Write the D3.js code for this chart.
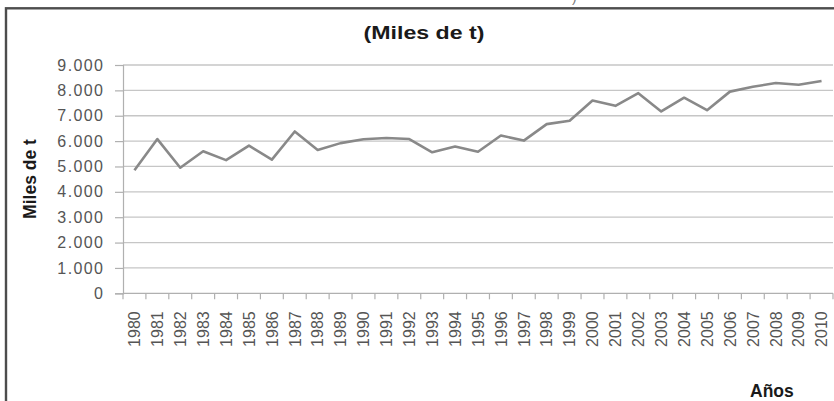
<!DOCTYPE html>
<html>
<head>
<meta charset="utf-8">
<script src="https://cdn.jsdelivr.net/npm/d3@7"></script>
<style>
  html, body { margin: 0; padding: 0; background: #fff; }
  svg { display: block; }
  text { font-family: "Liberation Sans", Arial, sans-serif; }
</style>
</head>
<body>
<svg id="chart" width="834" height="401"></svg>
<script>
const years = ["1980","1981","1982","1983","1984","1985","1986","1987","1988","1989",
  "1990","1991","1992","1993","1994","1995","1996","1997","1998","1999",
  "2000","2001","2002","2003","2004","2005","2006","2007","2008","2009","2010"];
const values = [4850, 6080, 4950, 5600, 5250, 5820, 5270, 6380, 5650, 5920,
  6070, 6120, 6080, 5560, 5790, 5580, 6220, 6020, 6670, 6800,
  7600, 7390, 7890, 7170, 7710, 7220, 7950, 8140, 8290, 8220, 8370];
const yTicks = [0, 1000, 2000, 3000, 4000, 5000, 6000, 7000, 8000, 9000];
const titleText = "(Miles de t)";
const yTitle = "Miles de t";
const xTitle = "Años";

const svg = d3.select("#chart");
const pLeft = 123, pRight = 833, pTop = 65, pBottom = 293.3;

const x = d3.scaleBand().domain(years).range([pLeft, pRight]);
const y = d3.scaleLinear().domain([0, 9000]).range([pBottom, pTop]);
const loc = d3.formatLocale({decimal: ",", thousands: ".", grouping: [3], currency: ["", ""]});
const fmt = loc.format(",");

// frame
svg.append("rect").attr("x", 6).attr("y", 8.3).attr("width", 850).attr("height", 420)
  .attr("fill", "none").attr("stroke", "#4d4d4d").attr("stroke-width", 2.4);

// caption fragment above frame
svg.append("text").attr("x", 572).attr("y", 2).attr("font-size", 14).attr("fill", "#777").text(")");

// gridlines
svg.append("g").selectAll("line").data(yTicks.filter(d => d > 0)).join("line")
  .attr("x1", pLeft).attr("x2", pRight)
  .attr("y1", d => y(d)).attr("y2", d => y(d))
  .attr("stroke", "#c6c6c6").attr("stroke-width", 1.3);

// y axis
const yAxis = svg.append("g").attr("transform", `translate(${pLeft},0)`)
  .call(d3.axisLeft(y).tickValues(yTicks).tickFormat(fmt).tickSize(8).tickPadding(12));
yAxis.select(".domain").attr("stroke", "#b0b0b0").attr("stroke-width", 1.2);
yAxis.selectAll(".tick line").attr("stroke", "#b0b0b0").attr("stroke-width", 1.2);
yAxis.selectAll(".tick text").attr("font-size", 16).attr("fill", "#555")
  .attr("font-family", "Liberation Sans, Arial, sans-serif")
  .style("letter-spacing", "1.4px").attr("dx", "1.4");

// x axis line + boundary ticks
svg.append("line").attr("x1", pLeft).attr("x2", pRight).attr("y1", pBottom).attr("y2", pBottom)
  .attr("stroke", "#b0b0b0").attr("stroke-width", 1.2);
const bounds = years.map(d => x(d)).concat([x(years[years.length - 1]) + x.bandwidth()]);
svg.append("g").selectAll("line").data(bounds).join("line")
  .attr("x1", d => d).attr("x2", d => d).attr("y1", pBottom).attr("y2", pBottom + 6)
  .attr("stroke", "#b0b0b0").attr("stroke-width", 1.2);

// x labels
const xAxis = svg.append("g").attr("transform", `translate(0,${pBottom})`)
  .call(d3.axisBottom(x).tickSize(0).tickPadding(0));
xAxis.select(".domain").remove();
xAxis.selectAll(".tick text")
  .attr("font-size", 16).attr("fill", "#555")
  .attr("font-family", "Liberation Sans, Arial, sans-serif")
  .attr("transform", "rotate(-90)")
  .attr("text-anchor", "end")
  .attr("x", -18).attr("y", 0).attr("dy", "0.36em").attr("dx", 0);

// line
const line = d3.line().x((d, i) => x(years[i]) + x.bandwidth() / 2).y(d => y(d));
svg.append("path").datum(values).attr("d", line)
  .attr("fill", "none").attr("stroke", "#898989").attr("stroke-width", 2.6)
  .attr("stroke-linejoin", "round");

// title
svg.append("text").attr("transform", "translate(424,39) scale(1.22,1)")
  .attr("text-anchor", "middle").attr("font-size", 19).attr("font-weight", "bold")
  .attr("fill", "#1a1a1a").text(titleText);

// y title
svg.append("text").attr("transform", "translate(36,179) rotate(-90)")
  .attr("text-anchor", "middle").attr("font-size", 17.5).attr("font-weight", "bold")
  .attr("fill", "#1a1a1a").text(yTitle);

// x title
svg.append("text").attr("x", 750).attr("y", 396.5)
  .attr("font-size", 17.5).attr("font-weight", "bold")
  .attr("fill", "#1a1a1a").text(xTitle);
</script>
</body>
</html>
